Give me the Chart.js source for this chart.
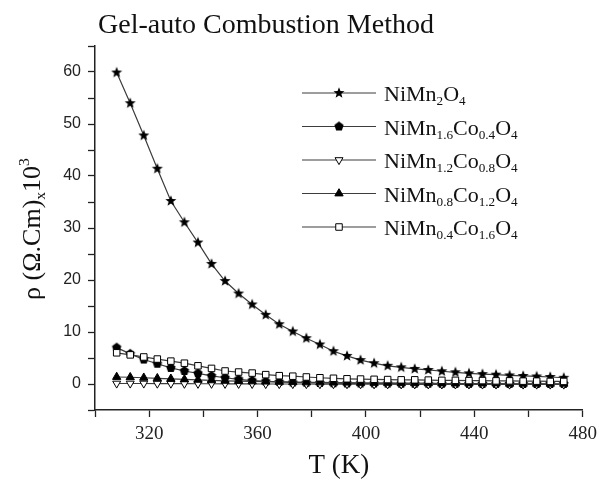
<!DOCTYPE html>
<html>
<head>
<meta charset="utf-8">
<script src="https://cdn.jsdelivr.net/npm/chart.js@4.4.1/dist/chart.umd.min.js"></script>
<style>
html, body { margin: 0; padding: 0; background: #fff; }
</style>
</head>
<body>
<canvas id="rhoChart" width="603" height="479"></canvas>
<script>
// temperature (K)
const temps = [308, 313, 318, 323, 328, 333, 338, 343, 348, 353, 358, 363, 368, 373, 378, 383, 388,
	393, 398, 403, 408, 413, 418, 423, 428, 433, 438, 443, 448, 453, 458, 463, 468, 473];

// resistivity x10^3 (Ohm.cm)
const rhoNiMn2O4 = [59.9, 54.0, 47.8, 41.4, 35.2, 31.1, 27.2, 23.1, 19.8, 17.4, 15.3, 13.3, 11.5, 10.1, 8.8, 7.6, 6.3,
	5.4, 4.6, 4.0, 3.5, 3.2, 2.9, 2.7, 2.45, 2.25, 2.05, 1.9, 1.8, 1.65, 1.55, 1.45, 1.35, 1.2];
const rhoCo04 = [7.0, 5.8, 4.7, 3.9, 3.1, 2.5, 2.05, 1.55, 1.2, 0.9, 0.65, 0.5, 0.4, 0.3, 0.25, 0.2, 0.15,
	0.12, 0.1, 0.1, 0.08, 0.06, 0.05, 0.05, 0.04, 0.03, 0.03, 0.02, 0.02, 0.02, 0.01, 0.01, 0.0, 0.0];
const rhoCo08 = [0.1, 0.1, 0.1, 0.08, 0.08, 0.06, 0.05, 0.05, 0.04, 0.03, 0.02, 0.0, 0.0, 0.0, 0.0, -0.02, -0.02,
	-0.03, -0.04, -0.05, -0.05, -0.06, -0.06, -0.07, -0.08, -0.08, -0.08, -0.09, -0.09, -0.1, -0.1, -0.1, -0.1, -0.1];
const rhoCo12 = [1.35, 1.3, 1.2, 1.1, 1.0, 0.9, 0.8, 0.7, 0.6, 0.55, 0.5, 0.45, 0.4, 0.35, 0.3, 0.3, 0.25,
	0.25, 0.2, 0.2, 0.2, 0.15, 0.15, 0.15, 0.1, 0.1, 0.1, 0.1, 0.1, 0.05, 0.05, 0.05, 0.05, 0.05];
const rhoCo16 = [6.0, 5.6, 5.2, 4.8, 4.4, 4.0, 3.5, 3.0, 2.5, 2.3, 2.1, 1.8, 1.6, 1.5, 1.35, 1.2, 1.1,
	1.0, 0.95, 0.9, 0.85, 0.8, 0.8, 0.75, 0.7, 0.7, 0.65, 0.65, 0.6, 0.6, 0.55, 0.55, 0.5, 0.5];

// legend names, [text, "sub"] pieces
const seriesNames = [
	[["NiMn", ""], ["2", "sub"], ["O", ""], ["4", "sub"]],
	[["NiMn", ""], ["1.6", "sub"], ["Co", ""], ["0.4", "sub"], ["O", ""], ["4", "sub"]],
	[["NiMn", ""], ["1.2", "sub"], ["Co", ""], ["0.8", "sub"], ["O", ""], ["4", "sub"]],
	[["NiMn", ""], ["0.8", "sub"], ["Co", ""], ["1.2", "sub"], ["O", ""], ["4", "sub"]],
	[["NiMn", ""], ["0.4", "sub"], ["Co", ""], ["1.6", "sub"], ["O", ""], ["4", "sub"]]
];
const chartTitle = "Gel-auto Combustion Method";
const xTitle = "T (K)";
const yTitle = [["\u03C1 (\u03A9.Cm)", ""], ["x", "sub"], ["10", ""], ["3", "sup"]];

const serif = '"Liberation Serif", "Times New Roman", serif';

function makeShape(points, r, inner) {
	var c = document.createElement("canvas");
	var s = Math.ceil(r * 2) + 2;
	c.width = s;
	c.height = s;
	var g = c.getContext("2d");
	g.fillStyle = "#000";
	g.beginPath();
	var n = inner ? points * 2 : points;
	for (var i = 0; i < n; i++) {
		var a = -Math.PI / 2 + i * 2 * Math.PI / n;
		var rr = inner && i % 2 ? r * inner : r;
		g.lineTo(s / 2 + rr * Math.cos(a), s / 2 + rr * Math.sin(a));
	}
	g.closePath();
	g.fill();
	return c;
}

const starMark = makeShape(5, 5.8, 0.42);
const pentMark = makeShape(5, 4.9, 0);

function toXY(values) {
	return values.map(function (v, i) {
		return { x: temps[i], y: v };
	});
}

const markerStyles = [
	{ pointStyle: starMark, radius: 5, rotation: 0, bg: "#000", border: "#000" },
	{ pointStyle: pentMark, radius: 4, rotation: 0, bg: "#000", border: "#000" },
	{ pointStyle: "triangle", radius: 4.6, rotation: 180, bg: "#fff", border: "#000" },
	{ pointStyle: "triangle", radius: 4.8, rotation: 0, bg: "#000", border: "#000" },
	{ pointStyle: "rect", radius: 4.6, rotation: 0, bg: "#fff", border: "#000" }
];

const allSeries = [rhoNiMn2O4, rhoCo04, rhoCo08, rhoCo12, rhoCo16];

const datasets = allSeries.map(function (vals, i) {
	var m = markerStyles[i];
	return {
		label: seriesNames[i].map(function (p) { return p[0]; }).join(""),
		data: toXY(vals),
		borderColor: "#3c3c3c",
		borderWidth: 1.2,
		pointStyle: m.pointStyle,
		pointRadius: m.radius,
		pointRotation: m.rotation,
		pointBackgroundColor: m.bg,
		pointBorderColor: m.border,
		pointBorderWidth: 1,
		fill: false,
		tension: 0,
		order: 4 - i,
	};
});

function drawRich(ctx, parts, x, y, size) {
	parts.forEach(function (p) {
		var fs = size, dy = 0;
		if (p[1] === "sub") { fs = size * 0.6; dy = size * 0.2; }
		if (p[1] === "sup") { fs = size * 0.6; dy = -size * 0.42; }
		ctx.font = fs + "px " + serif;
		ctx.fillText(p[0], x, y + dy);
		x += ctx.measureText(p[0]).width;
	});
	return x;
}

function richWidth(ctx, parts, size) {
	var w = 0;
	parts.forEach(function (p) {
		var fs = p[1] ? size * 0.6 : size;
		ctx.font = fs + "px " + serif;
		w += ctx.measureText(p[0]).width;
	});
	return w;
}

const textPlugin = {
	id: "textPlugin",
	afterDraw: function (chart) {
		var ctx = chart.ctx;
		ctx.save();
		ctx.fillStyle = "#111";
		ctx.textBaseline = "alphabetic";
		ctx.textAlign = "left";

		// title
		ctx.font = "28px " + serif;
		ctx.fillText(chartTitle, 98, 33);

		// y axis title, rotated
		ctx.save();
		var w = richWidth(ctx, yTitle, 26);
		ctx.translate(40, 229 + w / 2);
		ctx.rotate(-Math.PI / 2);
		drawRich(ctx, yTitle, 0, 0, 26);
		ctx.restore();

		// legend
		for (var i = 0; i < seriesNames.length; i++) {
			var ly = 93 + i * 33.5;
			var m = markerStyles[i];
			ctx.strokeStyle = "#3c3c3c";
			ctx.lineWidth = 1.2;
			ctx.beginPath();
			ctx.moveTo(302, ly);
			ctx.lineTo(376, ly);
			ctx.stroke();
			ctx.fillStyle = m.bg;
			ctx.strokeStyle = m.border;
			ctx.lineWidth = 1;
			Chart.helpers.drawPoint(ctx, {
				pointStyle: m.pointStyle,
				rotation: m.rotation,
				radius: m.radius,
				borderWidth: 1,
			}, 339, ly);
			ctx.fillStyle = "#111";
			drawRich(ctx, seriesNames[i], 384, ly + 8, 22);
		}
		ctx.restore();
	},
};

const ctxEl = document.getElementById("rhoChart");
const rhoChart = new Chart(ctxEl, {
	type: "line",
	data: { datasets: datasets },
	plugins: [textPlugin],
	options: {
		responsive: false,
		animation: false,
		devicePixelRatio: 1,
		layout: { padding: { top: 46, right: 14, left: 0, bottom: 0 } },
		plugins: {
			legend: { display: false },
			tooltip: { enabled: false },
		},
		scales: {
			x: {
				type: "linear",
				min: 300,
				max: 480,
				border: { color: "#222", width: 1.5 },
				grid: { drawOnChartArea: false, tickLength: 7, color: "#222", tickWidth: 1.3 },
				ticks: {
					stepSize: 20,
					autoSkip: false,
					maxRotation: 0,
					padding: 6,
					color: "#222",
					font: { family: serif, size: 19 },
					callback: function (v) {
						return v >= 320 && (v - 320) % 40 === 0 ? v : "";
					},
				},
				title: {
					display: true,
					text: xTitle,
					color: "#111",
					font: { family: serif, size: 27, lineHeight: 1 },
					padding: { top: 0, bottom: 0 },
				},
				afterFit: function (scale) {
					scale.height = 69;
				},
			},
			y: {
				min: -5,
				max: 65,
				border: { color: "#222", width: 1.5 },
				grid: { drawOnChartArea: false, tickLength: 7, color: "#222", tickWidth: 1.3 },
				ticks: {
					stepSize: 5,
					autoSkip: false,
					padding: 7,
					color: "#222",
					font: { family: '"Liberation Sans", Arial, sans-serif', size: 16 },
					callback: function (v) {
						return v % 10 === 0 ? v : "";
					},
				},
				afterFit: function (scale) {
					scale.width = 95;
				},
			},
		},
	},
});
</script>
</body>
</html>
